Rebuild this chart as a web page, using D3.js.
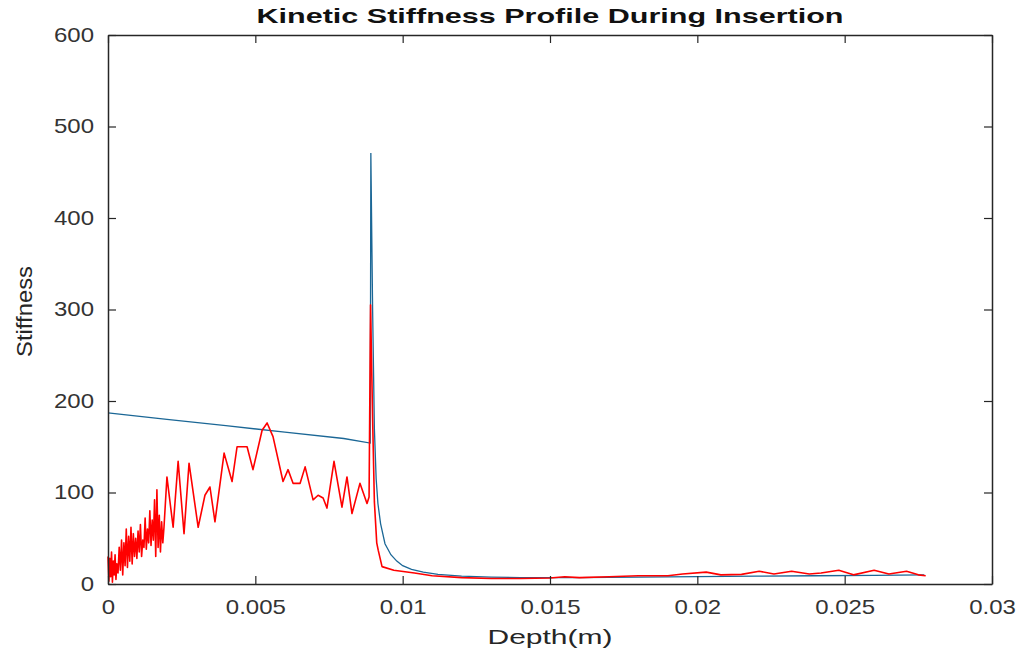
<!DOCTYPE html>
<html>
<head>
<meta charset="utf-8">
<script src="https://cdn.jsdelivr.net/npm/d3@7"></script>
<style>
  body { margin: 0; background: #fff; }
  svg { display: block; }
  text { font-family: "Liberation Sans", Arial, Helvetica, sans-serif; }
</style>
</head>
<body>
<svg id="chart" width="1022" height="659"></svg>
<script>
// Axis ticks
const xTickValues = [0, 0.005, 0.01, 0.015, 0.02, 0.025, 0.03];
const xTickLabels = ["0", "0.005", "0.01", "0.015", "0.02", "0.025", "0.03"];
const yTickValues = [0, 100, 200, 300, 400, 500, 600];
const yTickLabels = ["0", "100", "200", "300", "400", "500", "600"];

// Fitted stiffness model (blue): [depth m, stiffness]
const fittedStiffness = [
  [0, 187], [0.002, 180], [0.004, 173], [0.006, 166], [0.008, 159], [0.0089, 154],
  [0.00892, 471], [0.00898, 300], [0.00904, 170], [0.0091, 115], [0.00916, 88],
  [0.00925, 66], [0.0094, 44], [0.0096, 32], [0.0098, 25], [0.0100, 20],
  [0.0103, 16], [0.0107, 13], [0.0112, 10.5], [0.012, 8.5], [0.013, 7.5],
  [0.014, 7], [0.016, 7], [0.018, 7.5], [0.02, 8], [0.022, 8.5], [0.024, 9],
  [0.026, 9.5], [0.0277, 10]
];

// Measured stiffness (red): [depth m, stiffness]
const measuredStiffness = [
  [0.00000, 30], [0.00003, 3], [0.00006, 28], [0.00009, 8], [0.00012, 35],
  [0.00015, 2], [0.00018, 25], [0.00021, 10], [0.00024, 32], [0.00027, 5],
  [0.00030, 22], [0.00034, 12], [0.00038, 40], [0.00042, 15], [0.00046, 48],
  [0.00050, 10], [0.00054, 45], [0.00058, 20], [0.00062, 60], [0.00066, 18],
  [0.00070, 52], [0.00074, 25], [0.00078, 62], [0.00082, 22], [0.00086, 55],
  [0.00090, 30], [0.00094, 50], [0.00098, 28], [0.00102, 58], [0.00106, 35],
  [0.00110, 65], [0.00114, 30], [0.00118, 48], [0.00122, 40], [0.00126, 72],
  [0.00130, 38], [0.00134, 60], [0.00138, 45], [0.00142, 80], [0.00146, 42],
  [0.00150, 70], [0.00154, 48], [0.00158, 92], [0.00162, 30], [0.00166, 103],
  [0.00170, 40], [0.00174, 75], [0.00178, 35], [0.00182, 68], [0.00186, 45],
  [0.00190, 62], [0.00200, 117], [0.00221, 62], [0.00238, 134], [0.00258, 55],
  [0.00275, 132], [0.00306, 62], [0.00329, 97], [0.00346, 106], [0.00363, 68],
  [0.00394, 143], [0.00421, 112], [0.00438, 150], [0.00472, 150], [0.00492, 125],
  [0.00523, 168], [0.00540, 176], [0.00560, 161], [0.00594, 112], [0.00611, 125],
  [0.00628, 110], [0.00652, 110], [0.00669, 128], [0.00696, 92], [0.00713, 97],
  [0.00730, 94], [0.00743, 83], [0.00767, 134], [0.00794, 84], [0.00811, 117],
  [0.00828, 77], [0.00855, 110], [0.00879, 88], [0.00886, 95], [0.00891, 305],
  [0.00898, 180], [0.00904, 90], [0.00912, 45], [0.00917, 37], [0.00930, 19],
  [0.00970, 15], [0.01040, 12], [0.01100, 9], [0.01200, 7], [0.01300, 6],
  [0.01400, 6], [0.01500, 6.5], [0.01550, 8], [0.01600, 7], [0.01700, 8],
  [0.01800, 9], [0.01900, 9], [0.01950, 11], [0.02030, 13], [0.02080, 10],
  [0.02150, 10.5], [0.02210, 14], [0.02260, 11], [0.02320, 14], [0.02380, 11],
  [0.02420, 12], [0.02480, 15], [0.02530, 10], [0.02600, 15], [0.02650, 11],
  [0.02710, 14], [0.02750, 10], [0.02775, 9]
];

const svg = d3.select("#chart");
const plot = { left: 108, right: 992, top: 35, bottom: 584 };
const x = d3.scaleLinear().domain([0, 0.03]).range([plot.left, plot.right]);
const y = d3.scaleLinear().domain([0, 600]).range([plot.bottom, plot.top]);

const axisColor = "#262626";
const stretch = 1.2;   // wide glyphs of the tick labels
const tickLen = 8;

function styleAxis(g) {
  g.select(".domain").attr("stroke", axisColor).attr("stroke-width", 1.5);
  g.selectAll(".tick line").attr("stroke", axisColor).attr("stroke-width", 1.2);
  g.selectAll(".tick text").attr("fill", "#333").attr("font-size", 20);
}

// Data lines
const line = d3.line().x(d => x(d[0])).y(d => y(d[1]));
svg.append("path").datum(fittedStiffness)
  .attr("d", line).attr("fill", "none")
  .attr("stroke", "#1b6796").attr("stroke-width", 1.3);
svg.append("path").datum(measuredStiffness)
  .attr("d", line).attr("fill", "none")
  .attr("stroke", "#ff0000").attr("stroke-width", 1.6)
  .attr("stroke-linejoin", "round");

// Bottom axis with labels
const gx = svg.append("g").attr("transform", `translate(0,${plot.bottom})`)
  .call(d3.axisBottom(x).tickValues(xTickValues)
    .tickFormat((d, i) => xTickLabels[i]).tickSizeInner(-tickLen).tickSizeOuter(0).tickPadding(16));
styleAxis(gx);
gx.selectAll(".tick text").attr("transform", `scale(${stretch},1)`);

// Left axis with labels
const gy = svg.append("g").attr("transform", `translate(${plot.left},0)`)
  .call(d3.axisLeft(y).tickValues(yTickValues)
    .tickFormat((d, i) => yTickLabels[i]).tickSizeInner(-tickLen).tickSizeOuter(0));
styleAxis(gy);
gy.selectAll(".tick text").attr("x", -14 / stretch).attr("transform", `scale(${stretch},1)`);

// Top and right axes close the box
const gt = svg.append("g").attr("transform", `translate(0,${plot.top})`)
  .call(d3.axisTop(x).tickValues(xTickValues).tickFormat("").tickSizeInner(-tickLen).tickSizeOuter(0));
styleAxis(gt);
const gr = svg.append("g").attr("transform", `translate(${plot.right},0)`)
  .call(d3.axisRight(y).tickValues(yTickValues).tickFormat("").tickSizeInner(-tickLen).tickSizeOuter(0));
styleAxis(gr);

// Title and axis labels
svg.append("text")
  .attr("x", (plot.left + plot.right) / 2).attr("y", 23)
  .attr("text-anchor", "middle").attr("font-size", 21).attr("font-weight", "bold")
  .attr("fill", "#111")
  .attr("textLength", 587).attr("lengthAdjust", "spacingAndGlyphs")
  .text("Kinetic Stiffness Profile During Insertion");

svg.append("text")
  .attr("x", (plot.left + plot.right) / 2).attr("y", 644)
  .attr("text-anchor", "middle").attr("font-size", 21).attr("fill", axisColor)
  .attr("textLength", 125).attr("lengthAdjust", "spacingAndGlyphs")
  .text("Depth(m)");

svg.append("text")
  .attr("transform", `translate(32,${(plot.top + plot.bottom) / 2 + 2}) rotate(-90)`)
  .attr("text-anchor", "middle").attr("font-size", 22).attr("fill", axisColor)
  .attr("textLength", 91).attr("lengthAdjust", "spacingAndGlyphs")
  .text("Stiffness");
</script>
</body>
</html>
